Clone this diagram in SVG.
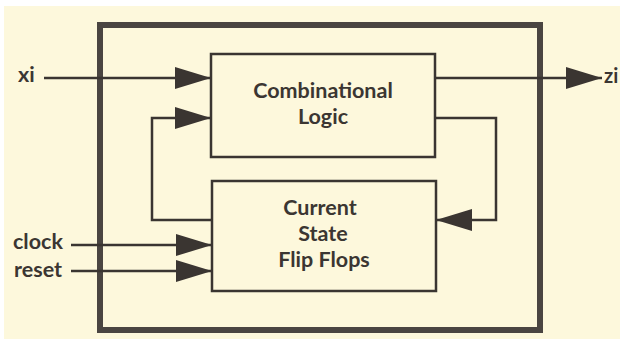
<svg xmlns="http://www.w3.org/2000/svg" width="620" height="339" viewBox="0 0 620 339">
<defs>
<style>
.ln{fill:none;stroke:#3a3531;stroke-width:2.5;stroke-linejoin:miter}
.box{fill:none;stroke:#3a3531;stroke-width:2.5}
.frame{fill:none;stroke:#4a4541;stroke-width:6}
.t{font-family:Lato,"Open Sans","DejaVu Sans",sans-serif;font-weight:bold;font-size:21.5px;fill:#3b3632}
.c{text-anchor:middle}
</style>
<marker id="ah" viewBox="0 0 36 22" refX="36" refY="11" markerWidth="36" markerHeight="22" markerUnits="userSpaceOnUse" orient="auto">
<path d="M0,0 L36,11 L0,22 Z" fill="#3a3531"/>
</marker>
</defs>
<rect x="0" y="0" width="620" height="339" fill="#ffffff"/>
<rect x="4" y="6" width="616" height="333" fill="#fdf8dc"/>
<g id="frame"><rect class="frame" x="100" y="25" width="440" height="305"/></g>
<g id="comb">
<rect class="box" x="211" y="54" width="224" height="103"/>
<text class="t c" x="323" y="98">Combinational</text>
<text class="t c" x="323" y="124">Logic</text>
</g>
<g id="flipflops">
<rect class="box" x="212" y="181" width="224" height="110"/>
<text class="t c" x="320" y="215">Current</text>
<text class="t c" x="323" y="241">State</text>
<text class="t c" x="324" y="267">Flip Flops</text>
</g>
<g id="labels">
<text class="t" x="18" y="82">xi</text>
<text class="t" x="604" y="83" style="font-size:20px">zi</text>
<text class="t" x="13" y="249">clock</text>
<text class="t" x="14" y="277">reset</text>
</g>
<g id="connectors">
<path class="ln" d="M44,78 H211" marker-end="url(#ah)"/>
<path class="ln" d="M435,78 H602" marker-end="url(#ah)"/>
<path class="ln" d="M212,220 H152 V118 H211" marker-end="url(#ah)"/>
<path class="ln" d="M435,118 H496 V220 H436" marker-end="url(#ah)"/>
<path class="ln" d="M71,245 H212" marker-end="url(#ah)"/>
<path class="ln" d="M71,271 H212" marker-end="url(#ah)"/>
</g>
</svg>
